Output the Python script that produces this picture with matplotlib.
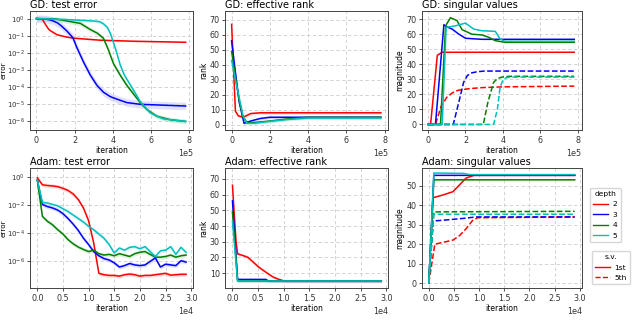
import numpy as np
import matplotlib
matplotlib.use("Agg")
import matplotlib.pyplot as plt
from matplotlib.lines import Line2D

# ---------------- data ----------------
depths = ["2", "3", "4", "5"]
colors = ["red", "blue", "green", "c"]

# GD test error (x in units of 1e5 iterations, y = log10 error)
gd_err_x = {
    "2": [0, 0.3, 0.45, 0.64, 0.75, 1.08, 1.6, 1.95, 2.64, 3.34, 5.08, 7.8],
    "3": [0, 0.5, 0.8, 1.1, 1.3, 1.6, 1.91, 2.12, 2.47, 2.82, 3.17, 3.51, 3.86, 4.21, 4.73, 5.43, 7.8],
    "4": [0, 1.0, 1.6, 2.3, 2.82, 3.17, 3.5, 3.77, 4.03, 4.38, 4.73, 5.08, 5.43, 5.77, 6.3, 7.0, 7.8],
    "5": [0, 1.0, 2.0, 3.0, 3.3, 3.5, 3.7, 3.86, 4.03, 4.2, 4.38, 4.6, 4.9, 5.2, 5.43, 5.95, 6.64, 7.8],
}
gd_err_y = {
    "2": [0, -0.02, -0.3, -0.62, -0.72, -0.94, -1.08, -1.14, -1.2, -1.26, -1.32, -1.38],
    "3": [0, -0.02, -0.1, -0.25, -0.42, -0.73, -1.12, -1.7, -2.55, -3.3, -3.9, -4.3, -4.55, -4.7, -4.9, -5.0, -5.1],
    "4": [0, -0.02, -0.14, -0.28, -0.64, -0.84, -1.14, -1.84, -2.63, -3.3, -3.9, -4.4, -4.9, -5.3, -5.7, -5.9, -6.0],
    "5": [0, -0.03, -0.08, -0.14, -0.18, -0.3, -0.5, -0.85, -1.4, -2.0, -2.7, -3.3, -3.85, -4.4, -4.85, -5.5, -5.85, -6.0],
}
gd_err_band = {"2": 0.04, "3": 0.22, "4": 0.14, "5": 0.1}

# GD effective rank (x in 1e5)
gd_rank_x = {
    "2": [0, 0.1, 0.2, 0.35, 0.6, 1.0, 1.5, 7.8],
    "3": [0, 0.2, 0.4, 0.65, 1.0, 1.5, 2.0, 7.8],
    "4": [0, 0.2, 0.4, 0.6, 0.8, 1.2, 2.0, 3.0, 4.0, 7.8],
    "5": [0, 0.2, 0.4, 0.6, 0.8, 1.2, 2.0, 3.0, 4.0, 7.8],
}
gd_rank_y = {
    "2": [67, 38, 9, 6, 5, 7.5, 8, 8],
    "3": [56, 35, 15, 1, 2.5, 4.2, 5, 5],
    "4": [49, 32, 16, 5, 1.5, 1.5, 2.5, 4, 5, 5],
    "5": [43, 30, 18, 6, 1, 1, 2.3, 3.6, 4.5, 4.5],
}

# GD singular values (x in 1e5): 1st and 5th
gd_sv1_x = {
    "2": [0, 0.14, 0.5, 0.76, 7.8],
    "3": [0, 0.4, 0.85, 1.0, 1.29, 1.64, 2.0, 2.88, 7.8],
    "4": [0, 0.67, 0.94, 1.2, 1.55, 1.82, 2.35, 2.88, 3.23, 3.59, 4.1, 7.8],
    "5": [0, 0.76, 0.97, 1.47, 2.0, 2.44, 2.88, 3.59, 3.85, 4.1, 7.8],
}
gd_sv1_y = {
    "2": [0, 0, 46, 48, 48],
    "3": [0, 0, 66.3, 65, 63.4, 60.1, 57.3, 56.6, 56.6],
    "4": [0, 0, 65.5, 71, 69, 63, 60, 59.5, 58, 55.7, 54.6, 54.6],
    "5": [0, 0, 64.5, 65.6, 67.4, 63.4, 62.3, 61.9, 56.8, 55.3, 55.3],
}
gd_sv5_x = {
    "2": [0, 0.4, 0.7, 1.0, 1.3, 1.6, 2.2, 2.9, 4.0, 7.8],
    "3": [0, 1.35, 1.65, 1.9, 2.1, 2.3, 2.6, 3.0, 7.8],
    "4": [0, 2.95, 3.2, 3.5, 3.7, 3.95, 4.3, 7.8],
    "5": [0, 3.5, 3.7, 3.85, 4.0, 4.15, 4.4, 7.8],
}
gd_sv5_y = {
    "2": [0, 0, 12, 18, 21, 22.7, 23.8, 24.5, 25, 25.5],
    "3": [0, 0, 15, 28, 32.5, 34.2, 35, 35.5, 35.5],
    "4": [0, 0, 15, 28, 30.5, 31.5, 32, 32],
    "5": [0, 0, 10, 25, 29.5, 31, 31.5, 31.5],
}

# Adam test error (x in 1e4, y = log10 error)
adam_err_x = [0, 0.1, 0.2, 0.3, 0.4, 0.5, 0.6, 0.7, 0.8, 0.9, 1.0, 1.1, 1.2, 1.3, 1.4,
              1.5, 1.6, 1.7, 1.8, 1.9, 2.0, 2.1, 2.2, 2.3, 2.4, 2.5, 2.6, 2.7, 2.8, 2.9]
adam_err_y = {
    "2": [-0.05, -0.55, -0.6, -0.63, -0.68, -0.8, -0.95, -1.2, -1.6, -2.2, -3.1, -4.7, -6.85, -6.95, -7.0,
          -7.0, -7.05, -6.95, -6.9, -6.95, -7.05, -7.0, -7.0, -6.95, -6.9, -6.85, -6.98, -6.95, -6.92, -6.92],
    "3": [-0.2, -1.95, -2.1, -2.2, -2.35, -2.6, -2.95, -3.35, -3.8, -4.35, -4.8, -5.3, -5.6, -5.8, -5.9,
          -6.1, -6.4, -6.3, -6.15, -6.25, -6.3, -6.25, -6.0, -5.75, -6.4, -6.2, -6.25, -6.3, -5.95, -6.05],
    "4": [-0.2, -2.8, -3.15, -3.4, -3.75, -4.05, -4.45, -4.75, -4.98, -5.15, -5.3, -5.2, -5.45, -5.55, -5.5,
          -5.6, -5.45, -5.55, -5.65, -5.45, -5.35, -5.3, -5.5, -5.7, -5.7, -5.65, -5.55, -5.7, -5.6, -5.55],
    "5": [-0.2, -1.8, -1.85, -1.95, -2.05, -2.25, -2.45, -2.7, -2.95, -3.2, -3.5, -3.75, -4.05, -4.35, -4.8,
          -5.4, -5.05, -5.2, -5.0, -4.95, -5.1, -4.95, -5.3, -5.65, -5.25, -5.2, -4.95, -5.5, -5.0, -5.35],
}
adam_err_band = 0.15

# Adam effective rank (x in 1e4)
adam_rank_x = {
    "2": [0, 0.03, 0.07, 0.1, 0.2, 0.3, 0.4, 0.5, 0.6, 0.7, 0.8, 0.9, 0.95, 1.0, 2.9],
    "3": [0, 0.1, 0.65, 0.7, 2.9],
    "4": [0, 0.1, 2.9],
    "5": [0, 0.1, 2.9],
}
adam_rank_y = {
    "2": [66, 50, 30, 22.3, 21.3, 20.1, 17.2, 14.2, 11.8, 9.5, 7.4, 6.1, 5.6, 5, 5],
    "3": [56, 6, 6, 5, 5],
    "4": [49, 5, 5],
    "5": [43, 5, 5],
}

# Adam singular values (x in 1e4)
adam_sv1_x = {
    "2": [0, 0.085, 0.28, 0.48, 0.61, 0.74, 0.9, 1.0, 2.9],
    "3": [0, 0.1, 2.9],
    "4": [0, 0.1, 2.9],
    "5": [0, 0.1, 0.7, 0.8, 2.9],
}
adam_sv1_y = {
    "2": [0, 43.9, 45.3, 47, 50.5, 54, 55.4, 55.4, 55.4],
    "3": [0, 55.4, 55.4],
    "4": [0, 53.1, 53.1],
    "5": [0, 56.6, 56.4, 55.8, 55.8],
}
adam_sv5_x = {
    "2": [0, 0.12, 0.28, 0.48, 0.61, 0.74, 0.87, 0.97, 2.9],
    "3": [0, 0.085, 0.41, 0.74, 0.93, 2.9],
    "4": [0, 0.1, 2.9],
    "5": [0, 0.1, 2.9],
}
adam_sv5_y = {
    "2": [0, 20.0, 20.9, 22.1, 24.4, 27.9, 32.2, 33.6, 34.0],
    "3": [0, 31.9, 32.6, 33.4, 34.0, 34.0],
    "4": [0, 36.6, 36.9],
    "5": [0, 35.4, 35.4],
}

# ---------------- figure ----------------
plt.rcParams["font.family"] = ["DejaVu Sans"]
fig = plt.figure(figsize=(6.4, 3.3), dpi=100)

colx = [(0.047, 0.255), (0.352, 0.255), (0.659, 0.25)]
rowy = [(0.606, 0.361), (0.127, 0.364)]
axes = [[fig.add_axes([cx[0], ry[0], cx[1], ry[1]]) for cx in colx] for ry in rowy]

TFS = 7
LFS = 5.5
KFS = 5.8


def style(ax, title, ylabel, sci, ylab_x=None):
    ax.set_title(title, loc="left", fontsize=TFS, pad=2)
    ax.set_xlabel("iteration", fontsize=LFS, labelpad=1)
    ax.set_ylabel(ylabel, fontsize=LFS, labelpad=1)
    if ylab_x is not None:
        ax.yaxis.set_label_coords(ylab_x, 0.5)
        ax.yaxis.label.set_va("center")
        ax.yaxis.label.set_fontsize(5.2)
    ax.tick_params(labelsize=KFS, length=2.5, width=0.6, pad=1.5, colors="#333333")
    ax.grid(True, linestyle=(0, (4, 3)), color="#cccccc", linewidth=0.6)
    for s in ax.spines.values():
        s.set_linewidth(0.7)
        s.set_color("#444444")
    if sci:
        ax.ticklabel_format(axis="x", style="sci", scilimits=(0, 0))
        ax.xaxis.get_offset_text().set_fontsize(KFS)


LW = 1.1
LOGFS = 5.0

# GD test error
ax = axes[0][0]
for d, c in zip(depths, colors):
    x = np.array(gd_err_x[d]) * 1e5
    y = np.array(gd_err_y[d])
    ax.fill_between(x, 10 ** (y - gd_err_band[d]), 10 ** (y + gd_err_band[d]), color=c, alpha=0.12, lw=0)
    ax.plot(x, 10 ** y, color=c, lw=LW)
ax.set_yscale("log")
ax.set_yticks([10.0 ** k for k in range(-6, 1)])
ax.yaxis.set_minor_locator(matplotlib.ticker.NullLocator())
ax.set_ylim(10 ** -6.5, 10 ** 0.45)
ax.set_xlim(-0.33e5, 8.2e5)
ax.set_xticks([0, 2e5, 4e5, 6e5, 8e5])
style(ax, "GD: test error", "error", True, ylab_x=-0.162)
ax.tick_params(axis="y", labelsize=LOGFS, pad=1.2)

# GD effective rank
ax = axes[0][1]
for d, c in zip(depths, colors):
    x = np.array(gd_rank_x[d]) * 1e5
    y = np.array(gd_rank_y[d])
    ax.fill_between(x, y - 1.0, y + 1.0, color=c, alpha=0.12, lw=0)
    ax.plot(x, y, color=c, lw=LW)
ax.set_ylim(-3.5, 76)
ax.set_yticks(range(0, 71, 10))
ax.set_xlim(-0.33e5, 8.2e5)
ax.set_xticks([0, 2e5, 4e5, 6e5, 8e5])
style(ax, "GD: effective rank", "rank", True)

# GD singular values
ax = axes[0][2]
for d, c in zip(depths, colors):
    ax.plot(np.array(gd_sv1_x[d]) * 1e5, gd_sv1_y[d], color=c, lw=LW, ls="-")
    ax.plot(np.array(gd_sv5_x[d]) * 1e5, gd_sv5_y[d], color=c, lw=LW, ls="--")
ax.set_ylim(-3.7, 75.5)
ax.set_yticks(range(0, 71, 10))
ax.set_xlim(-0.33e5, 8.2e5)
ax.set_xticks([0, 2e5, 4e5, 6e5, 8e5])
style(ax, "GD: singular values", "magnitude", True)

# Adam test error
ax = axes[1][0]
for d, c in zip(depths, colors):
    x = np.array(adam_err_x) * 1e4
    y = np.array(adam_err_y[d])
    ax.fill_between(x, 10 ** (y - adam_err_band), 10 ** (y + adam_err_band), color=c, alpha=0.12, lw=0)
    ax.plot(x, 10 ** y, color=c, lw=LW)
ax.set_yscale("log")
ax.set_yticks([1.0, 1e-2, 1e-4, 1e-6])
ax.yaxis.set_minor_locator(matplotlib.ticker.NullLocator())
ax.set_ylim(10 ** -7.9, 10 ** 0.65)
ax.set_xlim(-0.14e4, 3.04e4)
ax.set_xticks([0, 0.5e4, 1e4, 1.5e4, 2e4, 2.5e4, 3e4])
style(ax, "Adam: test error", "error", True, ylab_x=-0.162)
ax.tick_params(axis="y", labelsize=LOGFS, pad=1.2)

# Adam effective rank
ax = axes[1][1]
for d, c in zip(depths, colors):
    x = np.array(adam_rank_x[d]) * 1e4
    y = np.array(adam_rank_y[d])
    ax.fill_between(x, y - 1.0, y + 1.0, color=c, alpha=0.12, lw=0)
    ax.plot(x, y, color=c, lw=LW)
ax.set_ylim(0.5, 77)
ax.set_yticks(range(10, 71, 10))
ax.set_xlim(-0.14e4, 3.04e4)
ax.set_xticks([0, 0.5e4, 1e4, 1.5e4, 2e4, 2.5e4, 3e4])
style(ax, "Adam: effective rank", "rank", True)

# Adam singular values
ax = axes[1][2]
for d, c in zip(depths, colors):
    ax.plot(np.array(adam_sv1_x[d]) * 1e4, adam_sv1_y[d], color=c, lw=LW, ls="-")
    ax.plot(np.array(adam_sv5_x[d]) * 1e4, adam_sv5_y[d], color=c, lw=LW, ls="--")
ax.set_ylim(-2.6, 59.2)
ax.set_yticks(range(0, 51, 10))
ax.set_xlim(-0.14e4, 3.04e4)
ax.set_xticks([0, 0.5e4, 1e4, 1.5e4, 2e4, 2.5e4, 3e4])
style(ax, "Adam: singular values", "magnitude", True)

# legends
legkw = dict(loc="upper left", fontsize=5.4, title_fontsize=5.4,
             handlelength=2.0, handletextpad=0.6, borderpad=0.45, labelspacing=0.55,
             frameon=True, fancybox=True, edgecolor="#cccccc")
h1 = [Line2D([], [], color=c, lw=1.0) for c in colors]
fig.legend(h1, depths, title="depth", bbox_to_anchor=(586 / 640, 1 - 184 / 330), **legkw)
h2 = [Line2D([], [], color="red", lw=1.0, ls="-"), Line2D([], [], color="red", lw=1.0, ls="--")]
fig.legend(h2, ["1st", "5th"], title="s.v.", bbox_to_anchor=(588 / 640, 1 - 247 / 330), **legkw)

fig.savefig("out.png", dpi=100)
